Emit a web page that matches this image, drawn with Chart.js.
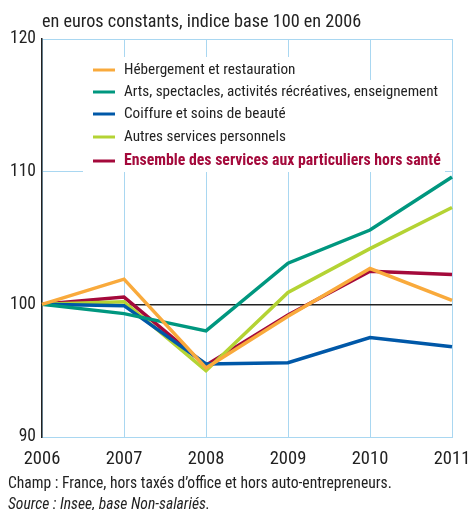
<!DOCTYPE html>
<html>
<head>
<meta charset="utf-8">
<script src="https://cdn.jsdelivr.net/npm/chart.js@4"></script>
<style>
  html, body { margin: 0; padding: 0; background: #fff; }
  #wrap { width: 472px; height: 510px; position: relative; }
</style>
</head>
<body>
<div id="wrap"><canvas id="chart" width="472" height="510"></canvas></div>
<script>
// Données (indice base 100 en 2006)
const years = ['2006', '2007', '2008', '2009', '2010', '2011'];
const hebergement = [100, 101.9, 95.2, 99.1, 102.7, 100.3];
const arts = [100, 99.3, 98.0, 103.1, 105.6, 109.6];
const coiffure = [100, 99.9, 95.5, 95.6, 97.5, 96.8];
const autres = [100, 100.2, 95.0, 100.9, 104.2, 107.3];
const ensemble = [100, 100.55, 95.4, 99.2, 102.5, 102.25];
const yTicks = [90, 100, 110, 120];

const FONT = "'Roboto Condensed', 'Liberation Sans Narrow', sans-serif";
const GRID_BLUE = '#a9d7f1';

const seriesDefs = [
    { label: 'Hébergement et restauration', data: hebergement, color: '#f9aa3c' },
    { label: 'Arts, spectacles, activités récréatives, enseignement', data: arts, color: '#00977f' },
    { label: 'Coiffure et soins de beauté', data: coiffure, color: '#0058a8' },
    { label: 'Autres services personnels', data: autres, color: '#b4d334' },
    { label: 'Ensemble des services aux particuliers hors santé', data: ensemble, color: '#a4093b', bold: true }
];

// Légende dessinée dans la zone du graphique
const legendPlugin = {
    id: 'insideLegend',
    beforeDatasetsDraw(chart) {
        const ctx = chart.ctx;
        ctx.save();
        ctx.fillStyle = '#fff';
        ctx.fillRect(83, 57, 218, 24);
        ctx.fillRect(83, 80, 362, 92);
        const rowsY = [70, 92, 114, 137, 161];
        chart.data.datasets.forEach((ds, i) => {
            const y = rowsY[i];
            ctx.strokeStyle = ds.borderColor;
            ctx.lineWidth = 3;
            ctx.beginPath();
            ctx.moveTo(93, y);
            ctx.lineTo(115, y);
            ctx.stroke();
            ctx.font = ds.bold ? 'bold 15.8px ' + FONT : '15.2px ' + FONT;
            ctx.fillStyle = ds.bold ? '#a4093b' : '#222';
            ctx.textBaseline = 'middle';
            ctx.textAlign = 'left';
            ctx.fillText(ds.label, 124, y);
        });
        ctx.restore();
    }
};

// Textes : sous-titre et notes
const textPlugin = {
    id: 'texts',
    afterDraw(chart) {
        const ctx = chart.ctx;
        ctx.save();
        ctx.fillStyle = '#222';
        ctx.textAlign = 'left';
        ctx.textBaseline = 'alphabetic';
        ctx.font = '18.2px ' + FONT;
        ctx.fillText('en euros constants, indice base 100 en 2006', 42, 27);
        ctx.font = '15.6px ' + FONT;
        ctx.fillText('Champ : France, hors taxés d\u2019office et hors auto-entrepreneurs.', 8, 488);
        ctx.font = 'italic 15.6px ' + FONT;
        ctx.fillText('Source : Insee, base Non-salariés.', 8, 509);
        ctx.restore();
    }
};

const ctx = document.getElementById('chart').getContext('2d');
new Chart(ctx, {
    type: 'line',
    data: {
        labels: years,
        datasets: seriesDefs.map(s => ({
            label: s.label,
            data: s.data,
            borderColor: s.color,
            backgroundColor: s.color,
            borderWidth: 3.5,
            pointRadius: 0,
            tension: 0,
            bold: !!s.bold
        }))
    },
    options: {
        responsive: false,
        animation: false,
        layout: { padding: { top: 39, right: 20, left: 0, bottom: 0 } },
        plugins: { legend: { display: false }, tooltip: { enabled: false } },
        scales: {
            x: {
                offset: false,
                afterFit(scale) {
                    scale.height = 73;
                    scale.paddingLeft = 0;
                    scale.paddingRight = 0;
                },
                grid: { color: GRID_BLUE, lineWidth: 1, drawTicks: false },
                border: { color: GRID_BLUE, width: 1 },
                ticks: {
                    padding: 11,
                    color: '#222',
                    maxRotation: 0,
                    autoSkip: false,
                    font: { family: FONT, size: 18.5 }
                }
            },
            y: {
                min: 90,
                max: 120,
                afterFit(scale) {
                    scale.width = 42;
                    scale.paddingTop = 0;
                    scale.paddingBottom = 0;
                },
                afterBuildTicks(scale) { scale.ticks = yTicks.map(v => ({ value: v })); },
                grid: {
                    drawTicks: false,
                    color: c => c.tick && c.tick.value === 100 ? '#222' : GRID_BLUE,
                    lineWidth: c => c.tick && c.tick.value === 100 ? 1.5 : 1
                },
                border: { color: '#222', width: 1.5 },
                ticks: {
                    padding: 6,
                    color: '#222',
                    font: { family: FONT, size: 17.5 }
                }
            }
        }
    },
    plugins: [legendPlugin, textPlugin]
});
</script>
</body>
</html>
